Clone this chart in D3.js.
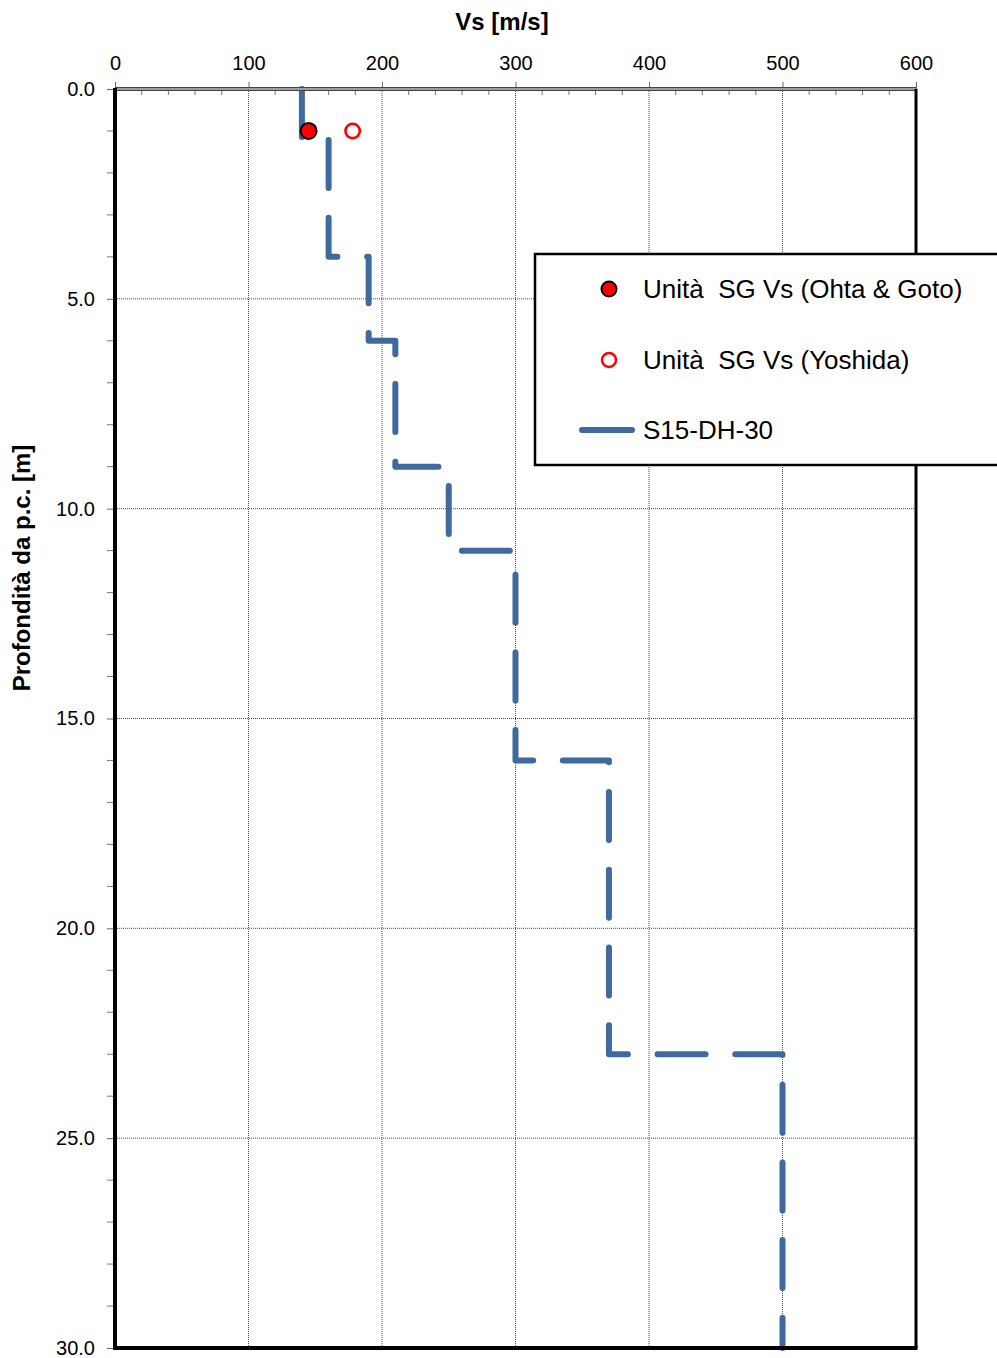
<!DOCTYPE html>
<html>
<head>
<meta charset="utf-8">
<script src="https://cdn.jsdelivr.net/npm/d3@7"></script>
<style>
  body { margin: 0; background: #fff; }
  svg { display: block; font-family: "Liberation Sans", Arial, sans-serif; }
</style>
</head>
<body>
<svg width="997" height="1358"></svg>
<script>
// profilo S15-DH-30 (gradini: profondita' [m], Vs [m/s])
var stepDepths = [0, 1.2, 4, 6, 9, 11, 16, 23, 30];
var stepVs = [140, 160, 190, 210, 250, 300, 370, 500];
var ohtaPoint = [{ vs: 145, z: 1.0 }];
var yoshidaPoint = [{ vs: 178, z: 1.0 }];
var xTicks = [0, 100, 200, 300, 400, 500, 600];
var yTicks = [0, 5, 10, 15, 20, 25, 30];
var legendLabels = ["Unità  SG Vs (Ohta & Goto)", "Unità  SG Vs (Yoshida)", "S15-DH-30"];

var svg = d3.select("svg"),
    margin = { top: 89, right: 81, bottom: 10, left: 115 },
    width = +svg.attr("width") - margin.left - margin.right,
    height = +svg.attr("height") - margin.top - margin.bottom;

var x = d3.scaleLinear().domain([0, 600]).range([0, width]),
    y = d3.scaleLinear().domain([0, 30]).range([0, height]);

var blue = "#3F6A9E";

var g = svg.append("g")
    .attr("transform", "translate(" + margin.left + "," + margin.top + ")");

// gridlines
g.append("g").selectAll("line").data(xTicks.slice(1, -1)).enter().append("line")
    .attr("x1", function(d) { return x(d); }).attr("x2", function(d) { return x(d); })
    .attr("y1", 0).attr("y2", height)
    .attr("stroke", "#222").attr("stroke-width", 0.8).attr("stroke-dasharray", "1,1");
g.append("g").selectAll("line").data(yTicks.slice(1, -1)).enter().append("line")
    .attr("y1", function(d) { return y(d); }).attr("y2", function(d) { return y(d); })
    .attr("x1", 0).attr("x2", width)
    .attr("stroke", "#222").attr("stroke-width", 0.8).attr("stroke-dasharray", "1,1");

// top axis (x)
var xAxis = g.append("g")
    .call(d3.axisTop(x).tickValues(xTicks).tickSize(7).tickPadding(12).tickFormat(d3.format("d")));
xAxis.select(".domain").remove();
xAxis.selectAll(".tick line").attr("stroke", "#666");
xAxis.selectAll("text").attr("font-size", 20).attr("fill", "#000")
    .style("font-family", "'Liberation Sans', Arial, sans-serif");
g.append("g").selectAll("line").data(d3.range(0, 601, 20).filter(function(d) { return d % 100; }))
    .enter().append("line")
    .attr("x1", function(d) { return x(d); }).attr("x2", function(d) { return x(d); })
    .attr("y1", 0).attr("y2", 6).attr("stroke", "#777").attr("stroke-width", 1);

// left axis (y)
var yAxis = g.append("g")
    .call(d3.axisLeft(y).tickValues(yTicks).tickSize(8).tickPadding(12).tickFormat(d3.format(".1f")));
yAxis.select(".domain").remove();
yAxis.selectAll(".tick line").attr("stroke", "#666");
yAxis.selectAll("text").attr("font-size", 20).attr("fill", "#000")
    .style("font-family", "'Liberation Sans', Arial, sans-serif");
g.append("g").selectAll("line").data(d3.range(0, 31).filter(function(d) { return d % 5; }))
    .enter().append("line")
    .attr("y1", function(d) { return y(d); }).attr("y2", function(d) { return y(d); })
    .attr("x1", -8).attr("x2", 0).attr("stroke", "#777").attr("stroke-width", 1);

// step profile
var profile = [];
stepVs.forEach(function(v, i) {
    profile.push([v, stepDepths[i]]);
    profile.push([v, stepDepths[i + 1]]);
});
var line = d3.line()
    .x(function(d) { return x(d[0]); })
    .y(function(d) { return y(d[1]); });
g.append("path")
    .datum(profile)
    .attr("d", line)
    .attr("fill", "none")
    .attr("stroke", blue)
    .attr("stroke-width", 6)
    .attr("stroke-linecap", "round")
    .attr("stroke-linejoin", "round")
    .attr("stroke-dasharray", "48,29.7");

// frame
g.append("line").attr("x1", 0).attr("x2", width).attr("y1", 0).attr("y2", 0)
    .attr("stroke", "#444").attr("stroke-width", 4);
g.append("line").attr("x1", 0).attr("x2", width).attr("y1", 0).attr("y2", 0)
    .attr("stroke", "#bbb").attr("stroke-width", 1.5);
g.append("line").attr("x1", 0).attr("x2", 0).attr("y1", -1).attr("y2", height + 2)
    .attr("stroke", "#000").attr("stroke-width", 4);
g.append("line").attr("x1", width).attr("x2", width).attr("y1", 0).attr("y2", height)
    .attr("stroke", "#000").attr("stroke-width", 3);
g.append("line").attr("x1", -2).attr("x2", width + 1.5).attr("y1", height).attr("y2", height)
    .attr("stroke", "#000").attr("stroke-width", 4);

// points
g.selectAll(".ohta").data(ohtaPoint).enter().append("circle")
    .attr("cx", function(d) { return x(d.vs); }).attr("cy", function(d) { return y(d.z); })
    .attr("r", 8).attr("fill", "#f00").attr("stroke", "#000").attr("stroke-width", 2);
g.selectAll(".yoshida").data(yoshidaPoint).enter().append("circle")
    .attr("cx", function(d) { return x(d.vs); }).attr("cy", function(d) { return y(d.z); })
    .attr("r", 7.2).attr("fill", "#fff").attr("stroke", "#f00").attr("stroke-width", 2.6);

// axis titles
svg.append("text").attr("x", 502).attr("y", 30).attr("text-anchor", "middle")
    .attr("font-size", 24).attr("font-weight", "bold").text("Vs [m/s]");
svg.append("text").attr("transform", "translate(30,568) rotate(-90)").attr("text-anchor", "middle")
    .attr("font-size", 24).attr("font-weight", "bold").text("Profondità da p.c. [m]");

// legend
var lg = svg.append("g");
lg.append("rect").attr("x", 535).attr("y", 254).attr("width", 470).attr("height", 211)
    .attr("fill", "#fff").attr("stroke", "#000").attr("stroke-width", 2.5);
var rows = [289, 360, 430];
lg.append("circle").attr("cx", 609).attr("cy", rows[0]).attr("r", 7.5)
    .attr("fill", "#f00").attr("stroke", "#000").attr("stroke-width", 2);
lg.append("circle").attr("cx", 609).attr("cy", rows[1]).attr("r", 7)
    .attr("fill", "#fff").attr("stroke", "#f00").attr("stroke-width", 2.5);
lg.append("line").attr("x1", 582).attr("x2", 632).attr("y1", rows[2]).attr("y2", rows[2])
    .attr("stroke", blue).attr("stroke-width", 6).attr("stroke-linecap", "round");
lg.selectAll(".lbl").data(legendLabels).enter().append("text")
    .attr("x", 643).attr("y", function(d, i) { return rows[i] + 9; })
    .attr("font-size", 26).attr("fill", "#000")
    .style("white-space", "pre").attr("xml:space", "preserve")
    .text(function(d) { return d; });
</script>
</body>
</html>
